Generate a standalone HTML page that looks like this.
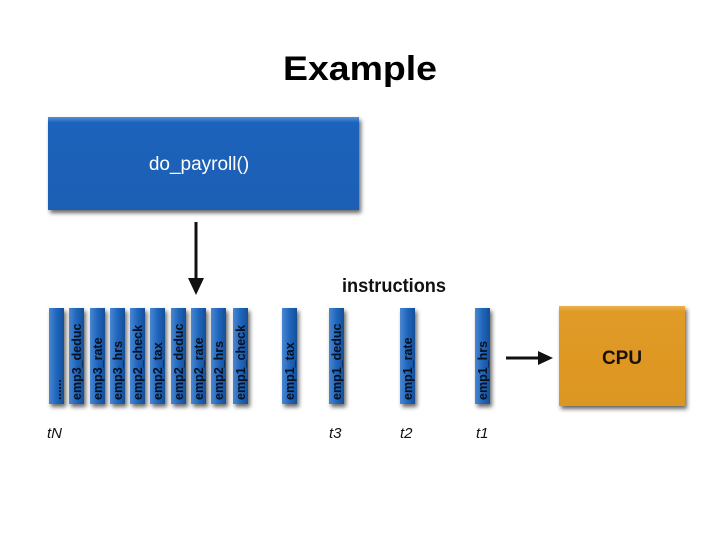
<!DOCTYPE html>
<html><head><meta charset="utf-8"><style>
body{margin:0;width:720px;height:540px;background:#fff;overflow:hidden;font-family:"Liberation Sans",sans-serif;}
</style></head><body>
<svg width="720" height="540" xmlns="http://www.w3.org/2000/svg">
<defs>
<linearGradient id="bg" x1="0" x2="1"><stop offset="0" stop-color="#4a86d0"/><stop offset="0.5" stop-color="#1f66bd"/><stop offset="1" stop-color="#164f98"/></linearGradient>
<linearGradient id="tb" x1="0" y1="0" x2="0" y2="1"><stop offset="0" stop-color="#5590d6"/><stop offset="0.06" stop-color="#1d63bb"/><stop offset="1" stop-color="#1b5fb5"/></linearGradient>
<linearGradient id="cg" x1="0" y1="0" x2="0" y2="1"><stop offset="0" stop-color="#ecb04a"/><stop offset="0.06" stop-color="#e09a26"/><stop offset="1" stop-color="#dc9622"/></linearGradient>
<filter id="sh" x="-20%" y="-20%" width="150%" height="150%"><feDropShadow dx="2" dy="3" stdDeviation="2" flood-color="#000" flood-opacity="0.6"/></filter>
</defs>
<text x="283" y="80" font-size="34" font-weight="bold" font-family="Liberation Sans" fill="#000" textLength="154" lengthAdjust="spacingAndGlyphs">Example</text>
<rect x="48" y="117" width="311" height="93" fill="url(#tb)" filter="url(#sh)"/>
<text x="199" y="170" text-anchor="middle" font-size="19" fill="#fff">do_payroll()</text>
<line x1="196" y1="222" x2="196" y2="280" stroke="#111" stroke-width="3"/>
<polygon points="188,278 204,278 196,295" fill="#111"/>
<text x="342" y="292" font-size="19" font-weight="bold" fill="#111" textLength="104" lengthAdjust="spacingAndGlyphs">instructions</text>
<g filter="url(#sh)">
<rect x="49" y="308" width="15" height="96" fill="url(#bg)"/>
<rect x="69" y="308" width="15" height="96" fill="url(#bg)"/>
<rect x="90" y="308" width="15" height="96" fill="url(#bg)"/>
<rect x="110" y="308" width="15" height="96" fill="url(#bg)"/>
<rect x="130" y="308" width="15" height="96" fill="url(#bg)"/>
<rect x="150" y="308" width="15" height="96" fill="url(#bg)"/>
<rect x="171" y="308" width="15" height="96" fill="url(#bg)"/>
<rect x="191" y="308" width="15" height="96" fill="url(#bg)"/>
<rect x="211" y="308" width="15" height="96" fill="url(#bg)"/>
<rect x="233" y="308" width="15" height="96" fill="url(#bg)"/>
<rect x="282" y="308" width="15" height="96" fill="url(#bg)"/>
<rect x="329" y="308" width="15" height="96" fill="url(#bg)"/>
<rect x="400" y="308" width="15" height="96" fill="url(#bg)"/>
<rect x="475" y="308" width="15" height="96" fill="url(#bg)"/>
<rect x="559" y="306" width="126" height="100" fill="url(#cg)"/>
</g>
<g font-size="12.5" font-weight="bold" fill="#06101e">
<text transform="translate(61,400) rotate(-90)">......</text>
<text transform="translate(81,400) rotate(-90)">emp3_deduc</text>
<text transform="translate(102,400) rotate(-90)">emp3_rate</text>
<text transform="translate(122,400) rotate(-90)">emp3_hrs</text>
<text transform="translate(142,400) rotate(-90)">emp2_check</text>
<text transform="translate(162,400) rotate(-90)">emp2_tax</text>
<text transform="translate(183,400) rotate(-90)">emp2_deduc</text>
<text transform="translate(203,400) rotate(-90)">emp2_rate</text>
<text transform="translate(223,400) rotate(-90)">emp2_hrs</text>
<text transform="translate(245,400) rotate(-90)">emp1_check</text>
<text transform="translate(294,400) rotate(-90)">emp1_tax</text>
<text transform="translate(341,400) rotate(-90)">emp1_deduc</text>
<text transform="translate(412,400) rotate(-90)">emp1_rate</text>
<text transform="translate(487,400) rotate(-90)">emp1_hrs</text>
</g>
<text x="622" y="364" text-anchor="middle" font-size="19" font-weight="bold" fill="#1a1208">CPU</text>
<line x1="506" y1="358" x2="540" y2="358" stroke="#111" stroke-width="3"/>
<polygon points="538,351 553,358 538,365" fill="#111"/>
<g font-size="15" font-style="italic" fill="#111">
<text x="47" y="438">tN</text>
<text x="329" y="438">t3</text>
<text x="400" y="438">t2</text>
<text x="476" y="438">t1</text>
</g>
</svg>
</body></html>
